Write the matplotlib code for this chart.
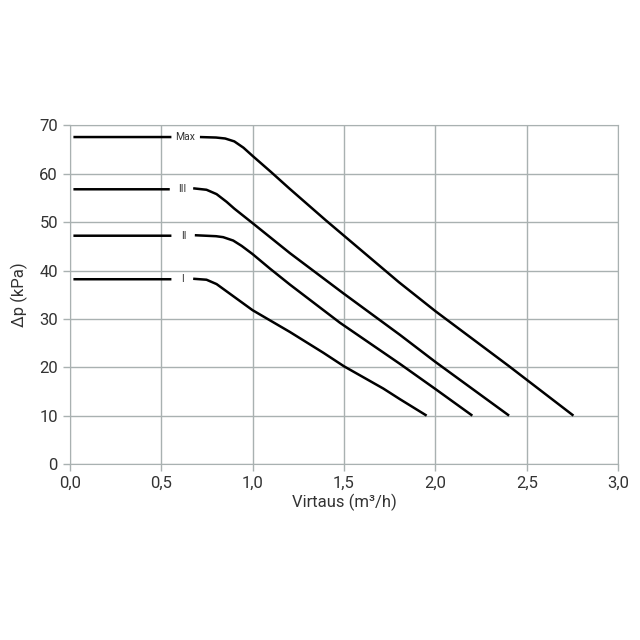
import numpy as np
import matplotlib
matplotlib.use('Agg')
import matplotlib.pyplot as plt
from matplotlib.ticker import FuncFormatter

plt.rcParams['font.family'] = ['Liberation Sans Narrow', 'Roboto', 'DejaVu Sans']

# pump curves, nan = gap where the speed label sits
x_max = [0.02, 0.556, np.nan, 0.712, 0.80, 0.85, 0.90, 0.95, 1.0, 1.1, 1.2, 1.4, 1.5,
         1.8, 2.0, 2.4, 2.755]
y_max = [67.6, 67.6, np.nan, 67.6, 67.5, 67.3, 66.7, 65.4, 63.7, 60.4, 57.0, 50.4, 47.2,
         37.6, 31.6, 20.3, 10.0]

x_3 = [0.02, 0.547, np.nan, 0.675, 0.748, 0.803, 0.858, 0.90, 1.0, 1.204, 1.496, 1.806, 2.0, 2.403]
y_3 = [56.8, 56.8, np.nan, 57.0, 56.7, 55.8, 54.2, 52.8, 49.8, 43.6, 35.3, 26.7, 21.1, 10.0]

x_2 = [0.02, 0.556, np.nan, 0.684, 0.80, 0.839, 0.894, 0.94, 1.0, 1.095, 1.204, 1.478, 1.806, 2.0, 2.202]
y_2 = [47.2, 47.2, np.nan, 47.3, 47.1, 46.9, 46.2, 45.1, 43.4, 40.4, 37.1, 29.2, 20.7, 15.5, 10.0]

x_1 = [0.02, 0.556, np.nan, 0.675, 0.748, 0.803, 0.876, 1.0, 1.204, 1.387, 1.5, 1.715, 1.806, 1.952]
y_1 = [38.2, 38.2, np.nan, 38.3, 38.1, 37.2, 35.2, 31.8, 27.3, 23.0, 20.2, 15.6, 13.4, 10.0]

labels = ['Max', 'III', 'II', 'I']
label_x = [0.633, 0.613, 0.624, 0.615]
label_y = [67.6, 56.8, 47.2, 38.2]

fig = plt.figure(figsize=(6.4, 6.4), dpi=100)
ax = fig.add_axes([0.109, 0.275, 0.857, 0.529])

for xs, ys in [(x_max, y_max), (x_3, y_3), (x_2, y_2), (x_1, y_1)]:
    ax.plot(xs, ys, color='black', lw=1.8, solid_capstyle='butt', solid_joinstyle='round')

for lab, lx, ly in zip(labels, label_x, label_y):
    ax.text(lx, ly, lab, ha='center', va='center', fontsize=7.5, color='#333333')

ax.set_xlim(0, 3.0)
ax.set_ylim(0, 70)
ax.set_xticks(np.arange(0, 3.01, 0.5))
ax.set_yticks(np.arange(0, 71, 10))
ax.xaxis.set_major_formatter(FuncFormatter(lambda v, p: ('%.1f' % v).replace('.', ',')))
ax.grid(True, color='#a9b1b1', lw=1.0)
ax.set_axisbelow(True)
for s in ax.spines.values():
    s.set_color('#a9b1b1')
ax.tick_params(colors='#a9b1b1', labelcolor='#333333', labelsize=12, length=5, width=1.0)

ax.set_xlabel('Virtaus (m³/h)', fontsize=12, color='#333333', labelpad=2)
ax.set_ylabel('Δp (kPa)', fontsize=12, color='#333333', labelpad=8)

fig.savefig('out.png', dpi=100, facecolor='white')
